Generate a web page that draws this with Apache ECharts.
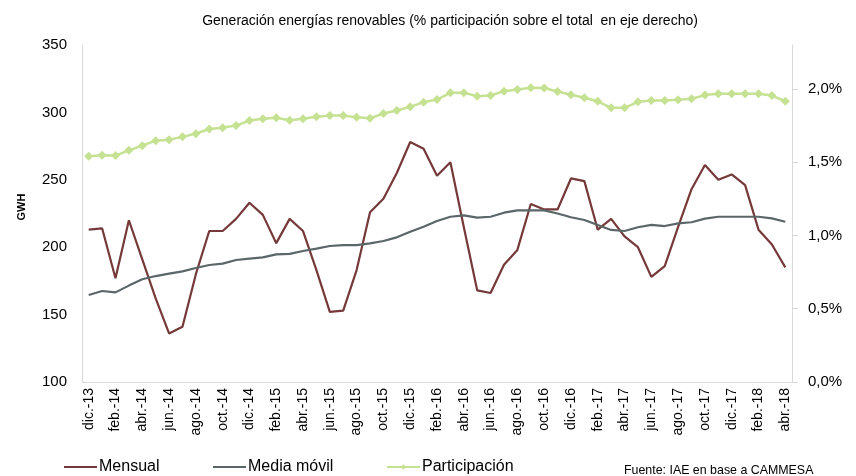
<!DOCTYPE html>
<html>
<head>
<meta charset="utf-8">
<title>Generación energías renovables</title>
<script src="https://cdn.jsdelivr.net/npm/echarts@6/dist/echarts.min.js"></script>
<style>
  html, body { margin: 0; padding: 0; background: #fff; }
  #chart { width: 856px; height: 476px; }
</style>
</head>
<body>
<div id="chart"></div>
<script>
  // meses dic.-13 a abr.-18
  var meses = [
    'dic.-13',
    'ene.-14','feb.-14','mar.-14','abr.-14','may.-14','jun.-14','jul.-14','ago.-14','sep.-14','oct.-14','nov.-14','dic.-14',
    'ene.-15','feb.-15','mar.-15','abr.-15','may.-15','jun.-15','jul.-15','ago.-15','sep.-15','oct.-15','nov.-15','dic.-15',
    'ene.-16','feb.-16','mar.-16','abr.-16','may.-16','jun.-16','jul.-16','ago.-16','sep.-16','oct.-16','nov.-16','dic.-16',
    'ene.-17','feb.-17','mar.-17','abr.-17','may.-17','jun.-17','jul.-17','ago.-17','sep.-17','oct.-17','nov.-17','dic.-17',
    'ene.-18','feb.-18','mar.-18','abr.-18'
  ];

  // GWH mensual
  var mensual = [
    213, 214, 177, 220, 191, 162, 136, 141, 180, 212, 212, 221, 233,
    224, 203, 221, 212, 183, 152, 153, 183, 226, 236, 255, 278,
    273, 253, 263, 215, 168, 166, 187, 198, 232, 228, 228, 251,
    249, 213, 221, 208, 200, 178, 186, 215, 243, 261, 250, 254,
    246, 213, 202, 185
  ];

  // GWH media movil
  var mediaMovil = [
    164.5, 167.5, 166.5, 171.5, 176.2, 178.6, 180.4, 182.1, 184.6, 186.8, 187.8, 190.5, 191.5,
    192.5, 194.7, 195.0, 197.2, 198.9, 200.9, 201.6, 201.6, 202.9, 204.6, 207.3, 211.5,
    215.2, 219.4, 222.6, 223.6, 221.9, 222.6, 225.6, 227.3, 227.3, 227.3, 225.0, 222.2,
    220.2, 216.5, 212.8, 212.0, 214.8, 216.5, 215.7, 217.7, 218.5, 221.2, 222.6, 222.6,
    222.6, 222.6, 221.4, 218.9
  ];

  // % participacion sobre el total (eje derecho)
  var participacion = [
    1.540, 1.547, 1.545, 1.581, 1.613, 1.647, 1.654, 1.673, 1.695, 1.727, 1.736, 1.750, 1.784,
    1.796, 1.803, 1.786, 1.796, 1.810, 1.818, 1.818, 1.807, 1.800, 1.832, 1.853, 1.878,
    1.910, 1.928, 1.974, 1.974, 1.951, 1.955, 1.985, 1.997, 2.008, 2.006, 1.983, 1.960,
    1.940, 1.916, 1.871, 1.871, 1.912, 1.921, 1.921, 1.926, 1.933, 1.958, 1.967, 1.967,
    1.967, 1.967, 1.955, 1.916
  ];

  var ticksPct = [0, 0.5, 1, 1.5, 2];

  var chart = echarts.init(document.getElementById('chart'));
  var fuente = 'Liberation Sans, Arial, sans-serif';
  var cMensual = '#76393a';
  var cMedia = '#5b6669';
  var cPart = '#c5e192';

  var legendText = { fontSize: 16, color: '#000', fontFamily: fuente, padding: [0, 0, 0, -3] };

  var option = {
    animation: false,
    textStyle: { fontFamily: fuente },
    title: {
      text: 'Generación energías renovables (% participación sobre el total  en eje derecho)',
      left: 445,
      textAlign: 'center',
      top: 9,
      textStyle: { fontSize: 14, fontWeight: 'normal', color: '#000', fontFamily: fuente }
    },
    grid: {
      left: 82,
      right: 64,
      top: 45,
      bottom: 94
    },
    // una leyenda por serie, como en el original
    legend: [
      {
        data: ['Mensual'],
        left: 59, top: 454,
        icon: 'rect', itemWidth: 33, itemHeight: 2,
        textStyle: legendText
      },
      {
        data: ['Media móvil'],
        left: 208, top: 454,
        icon: 'rect', itemWidth: 33, itemHeight: 2,
        textStyle: legendText
      },
      {
        data: ['Participación'],
        left: 381, top: 454,
        itemWidth: 33, itemHeight: 7,
        textStyle: legendText
      }
    ],
    graphic: [
      {
        type: 'text',
        left: 624,
        top: 465,
        style: { text: 'Fuente: IAE en base a CAMMESA', font: '12.4px ' + fuente, fill: '#000' }
      },
      {
        type: 'text',
        x: 22,
        y: 207,
        rotation: Math.PI / 2,
        style: {
          text: 'GWH',
          font: 'bold 11px ' + fuente,
          fill: '#000',
          align: 'center',
          verticalAlign: 'middle'
        }
      }
    ],
    xAxis: [{
      type: 'category',
      data: meses,
      boundaryGap: true,
      axisLine: { lineStyle: { color: '#d9d9d9', width: 1 } },
      axisTick: { show: false },
      axisLabel: {
        interval: 1,
        rotate: 90,
        fontSize: 14,
        color: '#000',
        margin: 6
      }
    }],
    yAxis: [
      {
        type: 'value',
        min: 100,
        max: 350,
        interval: 50,
        splitLine: { show: false },
        axisLine: { show: true, lineStyle: { color: '#d9d9d9' } },
        axisTick: { show: false },
        axisLabel: { fontSize: 15, color: '#000', margin: 15 }
      },
      {
        type: 'value',
        min: 0,
        max: 2.3,
        interval: 0.5,
        position: 'right',
        splitLine: { show: false },
        axisLine: { show: true, lineStyle: { color: '#d9d9d9' } },
        axisTick: { show: true, inside: false, length: 6, customValues: ticksPct, lineStyle: { color: '#d9d9d9' } },
        axisLabel: {
          fontSize: 15,
          color: '#000',
          margin: 16,
          customValues: ticksPct,
          formatter: function (v) {
            return v.toFixed(1).replace('.', ',') + '%';
          }
        }
      }
    ],
    series: [
      {
        name: 'Mensual',
        type: 'line',
        data: mensual,
        symbol: 'none',
        lineStyle: { color: cMensual, width: 2.2 },
        itemStyle: { color: cMensual }
      },
      {
        name: 'Media móvil',
        type: 'line',
        data: mediaMovil,
        symbol: 'none',
        lineStyle: { color: cMedia, width: 2.2 },
        itemStyle: { color: cMedia }
      },
      {
        name: 'Participación',
        type: 'line',
        yAxisIndex: 1,
        data: participacion,
        symbol: 'diamond',
        symbolSize: 9,
        showAllSymbol: true,
        lineStyle: { color: cPart, width: 2.5 },
        itemStyle: { color: cPart }
      }
    ]
  };

  chart.setOption(option);
  window.addEventListener('resize', function () {
    chart.resize();
  });
</script>
</body>
</html>
